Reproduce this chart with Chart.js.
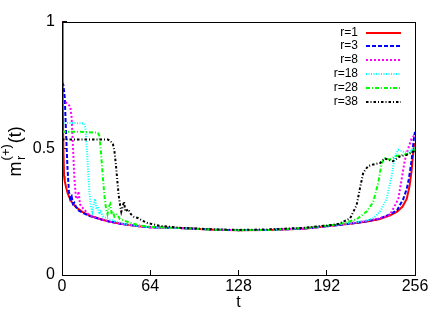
<!DOCTYPE html>
<html>
<head>
<meta charset="utf-8">
<script src="https://cdn.jsdelivr.net/npm/chart.js@4.4.1/dist/chart.umd.min.js"></script>
<style>
  html, body { margin: 0; padding: 0; background: #fff; }
  #wrap { width: 436px; height: 312px; }
</style>
</head>
<body>
<div id="wrap"><canvas id="mChart" width="436" height="312"></canvas></div>
<script>
// values
const labels = ['r=1', 'r=3', 'r=8', 'r=18', 'r=28', 'r=38'];
const xTicks = [0, 64, 128, 192, 256];
const yTickLabels = { 0: '0', 0.5: '0.5', 1: '1' };

const tR1 = [0, 0.5, 1, 1.5, 2, 3, 4, 5, 7, 10, 15, 20, 28, 35, 45, 56, 64, 86, 110, 128, 150, 175, 192, 200, 210, 220, 230, 238, 243, 247, 250, 252, 253.5, 254.5, 255.3, 256];
const mR1 = [1, 0.7, 0.5, 0.39, 0.37, 0.345, 0.325, 0.31, 0.288, 0.268, 0.248, 0.235, 0.22, 0.21, 0.2, 0.192, 0.188, 0.185, 0.179, 0.177, 0.178, 0.183, 0.192, 0.197, 0.203, 0.21, 0.22, 0.235, 0.25, 0.27, 0.3, 0.35, 0.41, 0.47, 0.51, 0.52];

const tR3 = [0, 1, 2, 3, 4, 5, 6, 7, 8, 9, 10, 12, 15, 20, 28, 35, 45, 56, 64, 86, 110, 128, 150, 175, 192, 200, 210, 220, 230, 238, 243, 247.5, 250, 251.5, 253.6, 255.3, 256];
const mR3 = [0.76, 0.75, 0.7, 0.55, 0.42, 0.33, 0.3, 0.31, 0.28, 0.285, 0.27, 0.255, 0.245, 0.233, 0.22, 0.21, 0.2, 0.192, 0.188, 0.185, 0.179, 0.177, 0.178, 0.183, 0.192, 0.197, 0.203, 0.211, 0.222, 0.24, 0.256, 0.3, 0.34, 0.378, 0.455, 0.545, 0.565];

const tR8 = [0, 2, 4, 6, 7, 8, 9, 10, 11, 12, 13, 14, 16, 18, 20, 24, 28, 35, 45, 56, 64, 86, 110, 128, 150, 175, 192, 200, 210, 220, 230, 237.8, 243.9, 246.3, 248.7, 251.1, 253.5, 256];
const mR8 = [0.69, 0.685, 0.675, 0.665, 0.62, 0.5, 0.38, 0.31, 0.3, 0.33, 0.28, 0.27, 0.26, 0.245, 0.236, 0.228, 0.22, 0.21, 0.2, 0.192, 0.188, 0.185, 0.179, 0.177, 0.178, 0.184, 0.193, 0.198, 0.205, 0.213, 0.223, 0.237, 0.3, 0.378, 0.455, 0.5, 0.538, 0.555];

const tR18 = [0, 8, 16, 17, 18, 19, 20, 21, 22, 23, 24, 25, 26, 27, 28, 30, 34, 40, 45, 56, 64, 86, 110, 128, 150, 175, 192, 200, 210, 221, 226, 230.6, 235.4, 239, 241.5, 243.9, 246, 248.7, 252.4, 256];
const mR18 = [0.6, 0.6, 0.598, 0.58, 0.5, 0.4, 0.32, 0.27, 0.25, 0.28, 0.3, 0.26, 0.27, 0.24, 0.25, 0.23, 0.22, 0.21, 0.202, 0.193, 0.188, 0.185, 0.179, 0.177, 0.178, 0.184, 0.193, 0.199, 0.206, 0.215, 0.225, 0.25, 0.3, 0.39, 0.468, 0.494, 0.49, 0.483, 0.49, 0.505];

const tR28 = [0, 13, 26, 27, 28, 29, 30, 31, 32, 33, 34, 35, 36, 37, 38, 40, 42, 45, 50, 56, 64, 86, 110, 128, 150, 175, 192, 200, 205, 213.7, 220.9, 225.7, 229.4, 231.8, 234.2, 237.9, 241.5, 246.3, 252.4, 256];
const mR28 = [0.565, 0.565, 0.562, 0.55, 0.5, 0.43, 0.36, 0.3, 0.26, 0.24, 0.27, 0.28, 0.24, 0.25, 0.23, 0.24, 0.22, 0.215, 0.205, 0.196, 0.19, 0.185, 0.179, 0.177, 0.178, 0.185, 0.195, 0.2, 0.206, 0.22, 0.25, 0.288, 0.365, 0.442, 0.46, 0.455, 0.468, 0.474, 0.48, 0.495];

const tR38 = [0, 17, 33, 35, 37, 38, 39, 40, 41, 42, 43, 44, 45, 46, 48, 50, 52, 55, 58, 62, 66, 70, 86, 110, 128, 150, 175, 192, 200, 204, 209, 213.7, 216, 218.5, 222, 225.7, 230.6, 234, 240, 245, 250, 254.8, 256];
const mR38 = [0.535, 0.535, 0.535, 0.53, 0.515, 0.49, 0.44, 0.38, 0.32, 0.28, 0.25, 0.27, 0.29, 0.25, 0.26, 0.24, 0.23, 0.225, 0.215, 0.205, 0.2, 0.195, 0.186, 0.18, 0.178, 0.18, 0.186, 0.195, 0.201, 0.21, 0.224, 0.276, 0.34, 0.404, 0.43, 0.436, 0.442, 0.46, 0.449, 0.468, 0.474, 0.487, 0.49];

const FONT = '"Liberation Sans", Arial, Helvetica, sans-serif';

function pts(ts, ms) {
    return ts.map((t, i) => ({ x: t, y: ms[i] }));
}

function series(label, ts, ms, color, dash, order) {
    return {
        label: label,
        data: pts(ts, ms),
        borderColor: color,
        borderWidth: 2,
        borderDash: dash,
        pointRadius: 0,
        tension: 0,
        fill: false,
        order: order
    };
}

// frame round the plot (top and right sides)
const frame = {
    id: 'frame',
    afterDraw(chart) {
        const a = chart.chartArea;
        const ctx = chart.ctx;
        ctx.save();
        ctx.strokeStyle = '#000';
        ctx.lineWidth = 1;
        ctx.strokeRect(Math.round(a.left) + 0.5, Math.round(a.top) + 0.5,
            Math.round(a.right - a.left), Math.round(a.bottom - a.top));
        ctx.restore();
    }
};

// gnuplot style key: text on the left, line sample on the right
const key = {
    id: 'key',
    afterDatasetsDraw(chart) {
        const a = chart.chartArea;
        const ctx = chart.ctx;
        ctx.save();
        ctx.font = '12px ' + FONT;
        ctx.textAlign = 'right';
        ctx.textBaseline = 'middle';
        chart.data.datasets.forEach((ds, i) => {
            const y = Math.round(a.top + 11 + i * 13.8);
            ctx.fillStyle = '#000';
            ctx.setLineDash([]);
            ctx.fillText(ds.label, a.right - 57, y);
            ctx.strokeStyle = ds.borderColor;
            ctx.lineWidth = ds.borderWidth;
            ctx.setLineDash(ds.borderDash || []);
            ctx.beginPath();
            ctx.moveTo(a.right - 49, y);
            ctx.lineTo(a.right - 14, y);
            ctx.stroke();
        });
        ctx.restore();
    }
};

// y axis title m_r^(+)(t) with stacked sub/superscript
const yTitle = {
    id: 'yTitle',
    afterDraw(chart) {
        const a = chart.chartArea;
        const ctx = chart.ctx;
        const big = '18px ' + FONT;
        const small = '13px ' + FONT;
        ctx.save();
        ctx.fillStyle = '#000';
        ctx.textBaseline = 'alphabetic';
        ctx.textAlign = 'left';
        ctx.font = big;
        const wm = ctx.measureText('m').width;
        const wt = ctx.measureText('(t)').width;
        ctx.font = small;
        const ws = ctx.measureText('(+)').width;
        const total = wm + ws + wt + 2;
        ctx.translate(21, (a.top + a.bottom) / 2 + 3);
        ctx.rotate(-Math.PI / 2);
        let x = -total / 2;
        ctx.font = big;
        ctx.fillText('m', x, 0);
        x += wm + 1;
        ctx.font = small;
        ctx.fillText('r', x + 0.5, 4);
        ctx.fillText('(+)', x, -11);
        x += ws + 1;
        ctx.font = big;
        ctx.fillText('(t)', x, 0);
        ctx.restore();
    }
};

new Chart(document.getElementById('mChart'), {
    type: 'line',
    data: {
        datasets: [
            series(labels[0], tR1, mR1, '#ff0000', [], 6),
            series(labels[1], tR3, mR3, '#0000ff', [4, 2], 5),
            series(labels[2], tR8, mR8, '#ff00ff', [2, 2], 4),
            series(labels[3], tR18, mR18, '#00ffff', [1, 1.5], 3),
            series(labels[4], tR28, mR28, '#00ff00', [4, 2, 1, 2], 2),
            series(labels[5], tR38, mR38, '#000000', [2.5, 2, 1, 2], 1)
        ]
    },
    options: {
        responsive: false,
        animation: false,
        devicePixelRatio: 1,
        layout: { padding: { left: 0, right: 21, top: 15, bottom: 0 } },
        plugins: {
            legend: { display: false },
            tooltip: { enabled: false }
        },
        scales: {
            x: {
                type: 'linear',
                min: 0,
                max: 256,
                afterFit: (s) => { s.height = 37; },
                afterBuildTicks: (s) => { s.ticks = xTicks.map(v => ({ value: v })); },
                ticks: {
                    color: '#000',
                    font: { family: FONT, size: 16 },
                    padding: 7,
                    maxRotation: 0
                },
                grid: {
                    drawOnChartArea: false,
                    drawTicks: true,
                    tickLength: -5,
                    color: '#000',
                    lineWidth: 1
                },
                border: { display: true, color: '#000', width: 1 },
                title: {
                    display: true,
                    text: 't',
                    color: '#000',
                    font: { family: FONT, size: 16 },
                    padding: { top: 0, bottom: 0 }
                }
            },
            y: {
                min: 0,
                max: 1,
                afterFit: (s) => { s.width = 62; },
                ticks: {
                    stepSize: 0.5,
                    color: '#000',
                    font: { family: FONT, size: 16 },
                    padding: 12,
                    callback: (v) => yTickLabels[v]
                },
                grid: {
                    drawOnChartArea: false,
                    drawTicks: true,
                    tickLength: -5,
                    color: '#000',
                    lineWidth: 1
                },
                border: { display: true, color: '#000', width: 1 }
            }
        }
    },
    plugins: [frame, key, yTitle]
});
</script>
</body>
</html>
